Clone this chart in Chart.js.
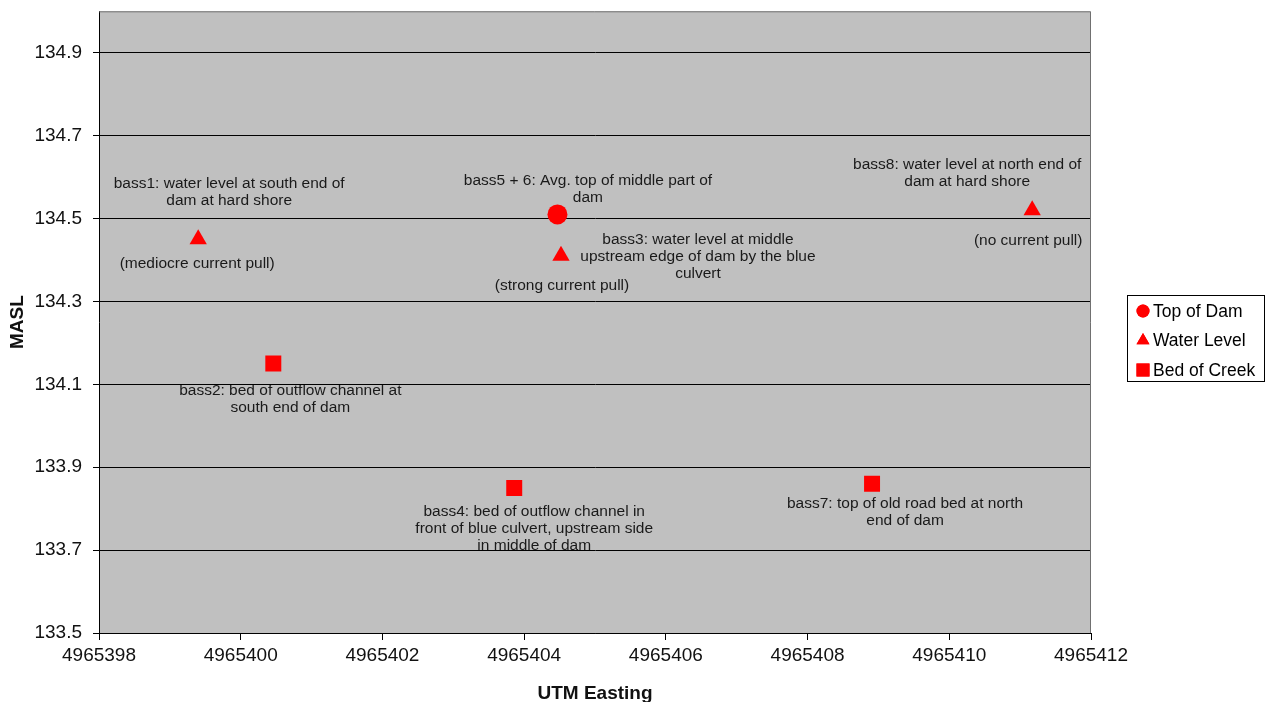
<!DOCTYPE html>
<html>
<head>
<meta charset="utf-8">
<title>Dam survey elevations</title>
<script src="https://cdn.jsdelivr.net/npm/chart.js@4/dist/chart.umd.min.js"></script>
<style>
  html, body { margin: 0; padding: 0; background: #ffffff; }
  #wrap { width: 1274px; height: 702px; position: relative; }
</style>
</head>
<body>
<div id="wrap"><canvas id="chart" width="1274" height="702"></canvas></div>
<script>
const FONT = '"Liberation Sans", Arial, Helvetica, sans-serif';

// Survey points: UTM easting (m) and elevation (metres above sea level)
const seriesNames = ['Top of Dam', 'Water Level', 'Bed of Creek'];
const topOfDamEasting = [4965404.47];
const topOfDamMasl = [134.51];
const waterLevelEasting = [4965399.40, 4965404.52, 4965411.17];
const waterLevelMasl = [134.45, 134.41, 134.52];
const bedOfCreekEasting = [4965400.46, 4965403.86, 4965408.91];
const bedOfCreekMasl = [134.15, 133.85, 133.86];

const eastingTicks = [4965398, 4965400, 4965402, 4965404, 4965406, 4965408, 4965410, 4965412];
const maslTicks = [133.5, 133.7, 133.9, 134.1, 134.3, 134.5, 134.7, 134.9];

// Notes written beside the survey points
const noteLines = [
  ['bass1: water level at south end of', 'dam at hard shore'],
  ['(mediocre current pull)'],
  ['bass2: bed of outflow channel at', 'south end of dam'],
  ['bass5 + 6: Avg. top of middle part of', 'dam'],
  ['bass3: water level at middle', 'upstream edge of dam by the blue', 'culvert'],
  ['(strong current pull)'],
  ['bass4: bed of outflow channel in', 'front of blue culvert, upstream side', 'in middle of dam'],
  ['bass7: top of old road bed at north', 'end of dam'],
  ['bass8: water level at north end of', 'dam at hard shore'],
  ['(no current pull)']
];
// point each note belongs to: [dataset index, point index]
const noteAnchors = [[1, 0], [1, 0], [2, 0], [0, 0], [1, 1], [1, 1], [2, 1], [2, 2], [1, 2], [1, 2]];
// pixel offset from that point to the centre of the note's first line
const noteOffsets = [[31, -55.5], [-1, 24.5], [17, 27], [30.5, -34], [137, -16.5], [1, 29.5], [20, 24], [33, 20], [-65, -46], [-4, 30]];

const pairs = (xs, ys) => xs.map((x, i) => ({ x: x, y: ys[i] }));

const plotBackground = {
  id: 'plotBackground',
  beforeDraw(chart) {
    const { ctx, chartArea: a } = chart;
    ctx.save();
    ctx.fillStyle = '#ffffff';
    ctx.fillRect(0, 0, chart.width, chart.height);
    ctx.fillStyle = '#c0c0c0';
    ctx.fillRect(a.left, a.top, a.right - a.left, a.bottom - a.top);

    // point notes sit under the gridlines
    ctx.fillStyle = '#1a1a1a';
    ctx.font = '15.5px ' + FONT;
    ctx.textAlign = 'center';
    ctx.textBaseline = 'middle';
    noteLines.forEach((lines, n) => {
      const [ds, idx] = noteAnchors[n];
      const el = chart.getDatasetMeta(ds).data[idx];
      const [dx, dy] = noteOffsets[n];
      lines.forEach((t, k) => ctx.fillText(t, el.x + dx, el.y + dy + k * 17));
    });
    ctx.restore();
  },
  afterDraw(chart) {
    const { ctx, chartArea: a } = chart;
    ctx.save();
    // top and right edges of the plot frame
    ctx.strokeStyle = '#707070';
    ctx.lineWidth = 1;
    ctx.beginPath();
    ctx.moveTo(a.left, a.top + 0.5);
    ctx.lineTo(a.right - 0.5, a.top + 0.5);
    ctx.lineTo(a.right - 0.5, a.bottom);
    ctx.stroke();

    // boxed legend
    const bx = 1127, by = 295, bw = 137, bh = 86;
    ctx.fillStyle = '#ffffff';
    ctx.fillRect(bx, by, bw, bh);
    ctx.strokeStyle = '#000000';
    ctx.strokeRect(bx + 0.5, by + 0.5, bw, bh);
    ctx.font = '17.5px ' + FONT;
    ctx.textAlign = 'left';
    ctx.textBaseline = 'middle';
    const sizes = [6.5, 7.5, 9.2];
    chart.data.datasets.forEach((d, i) => {
      const y = 311 + i * 29.5;
      ctx.fillStyle = d.backgroundColor;
      Chart.helpers.drawPoint(ctx, { pointStyle: d.pointStyle, radius: sizes[i], rotation: 0, borderWidth: 0 }, 1143, y);
      ctx.fill();
      ctx.fillStyle = '#000000';
      ctx.fillText(d.label, 1153, y + 1);
    });
    ctx.restore();
  }
};

new Chart(document.getElementById('chart'), {
  type: 'scatter',
  data: {
    datasets: [
      { label: seriesNames[0], data: pairs(topOfDamEasting, topOfDamMasl), pointStyle: 'circle', pointRadius: 10, backgroundColor: '#ff0000', borderColor: '#ff0000', borderWidth: 0 },
      { label: seriesNames[1], data: pairs(waterLevelEasting, waterLevelMasl), pointStyle: 'triangle', pointRadius: 10, backgroundColor: '#ff0000', borderColor: '#ff0000', borderWidth: 0 },
      { label: seriesNames[2], data: pairs(bedOfCreekEasting, bedOfCreekMasl), pointStyle: 'rect', pointRadius: 11.3, backgroundColor: '#ff0000', borderColor: '#ff0000', borderWidth: 0 }
    ]
  },
  options: {
    responsive: false,
    animation: false,
    devicePixelRatio: 1,
    layout: { padding: { left: 0, top: 7, right: 183, bottom: 0 } },
    plugins: { legend: { display: false }, tooltip: { enabled: false } },
    scales: {
      x: {
        type: 'linear',
        min: 4965398,
        max: 4965412,
        afterBuildTicks: s => { s.ticks = eastingTicks.map(v => ({ value: v })); },
        afterFit: s => { s.height = 69; s.paddingLeft = 0; s.paddingRight = 0; },
        ticks: { callback: v => String(v), font: { family: FONT, size: 19 }, color: '#111111', padding: 4, maxRotation: 0 },
        grid: { drawOnChartArea: false, drawTicks: true, tickLength: 7, color: '#000000', lineWidth: 1 },
        border: { color: '#000000', width: 1 },
        title: { display: true, text: 'UTM Easting', font: { family: FONT, size: 19, weight: 'bold' }, color: '#111111', padding: { top: 0, bottom: -3 } }
      },
      y: {
        type: 'linear',
        min: 133.5,
        max: 135.0,
        afterBuildTicks: s => { s.ticks = maslTicks.map(v => ({ value: v })); },
        afterFit: s => { s.width = 99; s.paddingTop = 0; s.paddingBottom = 0; },
        ticks: { callback: v => Number(v).toFixed(1), font: { family: FONT, size: 19 }, color: '#111111', padding: 11 },
        grid: { color: '#000000', lineWidth: 1, tickLength: 6 },
        border: { color: '#000000', width: 1 },
        title: { display: true, text: 'MASL', font: { family: FONT, size: 19, weight: 'bold' }, color: '#111111', padding: { top: 6, bottom: 0 } }
      }
    }
  },
  plugins: [plotBackground]
});
</script>
</body>
</html>
